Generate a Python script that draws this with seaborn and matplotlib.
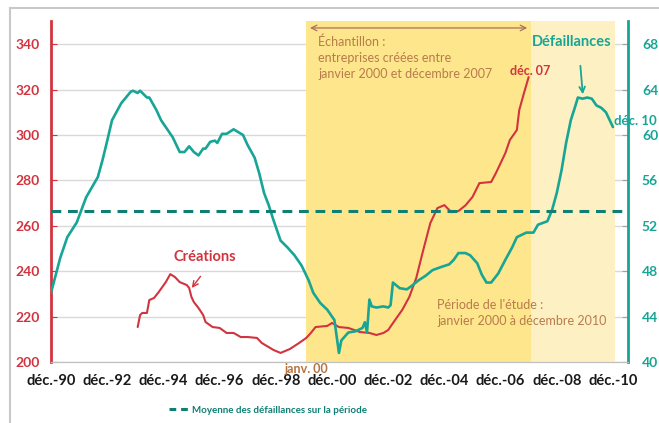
import pandas as pd
import numpy as np
import matplotlib
matplotlib.use("Agg")
import matplotlib.pyplot as plt
from matplotlib.patches import Rectangle
from matplotlib.lines import Line2D
import seaborn as sns

# Défaillances (right axis)
def_dates = ['1990-12', '1991-04', '1991-07', '1991-11', '1992-03', '1992-08', '1992-10', '1992-12',
             '1993-02', '1993-06', '1993-10', '1993-11', '1994-01', '1994-02', '1994-05', '1994-06',
             '1994-09', '1994-11', '1995-04', '1995-07', '1995-09', '1995-11', '1996-01', '1996-03',
             '1996-05', '1996-06', '1996-08', '1996-10', '1996-11', '1997-01', '1997-03', '1997-06',
             '1997-10', '1997-12', '1998-03', '1998-05', '1998-07', '1998-09', '1998-11', '1999-02',
             '1999-05', '1999-08', '1999-11', '2000-02', '2000-04', '2000-07', '2000-10', '2000-12',
             '2001-01', '2001-03', '2001-04', '2001-07', '2001-10', '2002-01', '2002-02', '2002-03',
             '2002-04', '2002-05', '2002-07', '2002-10', '2002-12', '2003-01', '2003-02', '2003-05',
             '2003-08', '2003-10', '2004-01', '2004-04', '2004-07', '2004-11', '2005-02', '2005-04',
             '2005-06', '2005-09', '2005-11', '2006-02', '2006-04', '2006-06', '2006-08', '2006-11',
             '2007-02', '2007-05', '2007-07', '2007-11', '2008-02', '2008-04', '2008-08', '2008-10',
             '2008-12', '2009-02', '2009-04', '2009-06', '2009-08', '2009-09', '2009-11', '2010-01',
             '2010-03', '2010-05', '2010-07', '2010-09', '2010-12']
def_vals = [46.1, 49.2, 51.0, 52.3, 54.5, 56.3, 57.8, 59.5,
            61.3, 62.8, 63.8, 63.9, 63.7, 63.9, 63.3, 63.3,
            62.2, 61.3, 59.8, 58.5, 58.5, 59.0, 58.5, 58.2,
            58.8, 58.8, 59.4, 59.5, 59.3, 60.1, 60.1, 60.5,
            60.0, 59.1, 58.0, 56.6, 54.9, 53.8, 52.5, 50.7,
            50.1, 49.4, 48.5, 47.2, 46.1, 45.2, 44.6, 44.0,
            43.7, 40.8, 41.9, 42.6, 42.7, 43.0, 43.5, 42.6,
            45.5, 44.9, 44.8, 44.9, 44.8, 45.0, 47.0, 46.5,
            46.4, 46.7, 47.2, 47.6, 48.1, 48.4, 48.6, 49.0,
            49.6, 49.6, 49.4, 48.7, 47.7, 47.0, 47.0, 47.8,
            49.0, 50.1, 51.0, 51.4, 51.4, 52.1, 52.4, 53.4,
            54.9, 56.9, 59.3, 61.3, 62.6, 63.3, 63.2, 63.3,
            63.2, 62.6, 62.4, 62.0, 60.7]

# Créations (left axis)
cre_dates = ['1994-01', '1994-02', '1994-03', '1994-05', '1994-06', '1994-08', '1994-10', '1995-01',
             '1995-03', '1995-05', '1995-07', '1995-10', '1995-11', '1995-12', '1996-01', '1996-03',
             '1996-05', '1996-06', '1996-09', '1996-12', '1997-03', '1997-06', '1997-09', '1997-12',
             '1998-04', '1998-06', '1998-11', '1999-02', '1999-06', '1999-10', '2000-01', '2000-03',
             '2000-05', '2000-10', '2000-12', '2001-03', '2001-07', '2001-12', '2002-04', '2002-07',
             '2002-10', '2002-12', '2003-03', '2003-06', '2003-09', '2003-12', '2004-03', '2004-06',
             '2004-09', '2004-12', '2005-03', '2005-06', '2005-09', '2005-12', '2006-03', '2006-08',
             '2006-10', '2006-11', '2007-02', '2007-04', '2007-07', '2007-08', '2007-10', '2007-12']
cre_vals = [215.4, 220.7, 221.6, 221.6, 227.3, 228.2, 230.8, 235.2,
            238.7, 237.4, 235.2, 233.9, 232.6, 228.6, 226.4, 223.8,
            220.7, 217.6, 215.4, 215.0, 212.8, 212.8, 211.0, 211.0,
            210.6, 208.4, 205.3, 204.0, 205.7, 208.4, 210.6, 212.8,
            215.4, 215.9, 217.2, 215.4, 215.0, 213.2, 212.8, 211.9,
            212.8, 214.1, 218.5, 222.9, 228.6, 237.0, 249.3, 261.2,
            267.8, 269.1, 266.0, 266.5, 269.0, 272.7, 278.8, 279.3,
            283.2, 285.4, 292.0, 297.8, 302.2, 311.0, 318.4, 325.5]

mean_def = 53.3
tick_labels = ['déc.-90', 'déc.-92', 'déc.-94', 'déc.-96', 'déc.-98', 'déc.-00',
               'déc.-02', 'déc.-04', 'déc.-06', 'déc.-08', 'déc.-10']

RED = '#d2343f'
TEAL = '#17a596'
TEAL_DK = '#0e7f72'
BROWN = '#b97a4c'

sns.set_style("white")
plt.rcParams['font.family'] = ['Lato', 'DejaVu Sans']

df_def = pd.DataFrame({'date': pd.to_datetime(def_dates), 'val': def_vals})
df_cre = pd.DataFrame({'date': pd.to_datetime(cre_dates), 'val': cre_vals})

fig = plt.figure(figsize=(6.59, 4.23), dpi=100)
ax = fig.add_axes([0.0774, 0.1442, 0.8756, 0.8050])
ax2 = ax.twinx()

# study period shading
ax.axvspan(pd.Timestamp('2000-01-01'), pd.Timestamp('2008-01-01'), color='#fde68b', lw=0, zorder=1)
ax.axvspan(pd.Timestamp('2008-01-01'), pd.Timestamp('2011-01-01'), color='#fdf1c3', lw=0, zorder=1)

sns.lineplot(data=df_cre, x='date', y='val', ax=ax, color=RED, lw=1.5, zorder=3)
sns.lineplot(data=df_def, x='date', y='val', ax=ax2, color=TEAL, lw=1.9, zorder=3)
ax2.axhline(mean_def, color=TEAL_DK, lw=2.2, ls=(0, (3.2, 2.2)), zorder=4)

ax.set_xlim(pd.Timestamp('1990-12-01'), pd.Timestamp('2011-06-15'))
ax.set_ylim(200, 350)
ax2.set_ylim(40, 70)
ax.set_yticks(np.arange(200, 341, 20))
ax2.set_yticks(np.arange(40, 69, 4))
xt = pd.date_range('1990-12-01', '2010-12-01', freq='24MS')
ax.set_xticks(xt)
ax.set_xticklabels(tick_labels)
ax.set_xlabel('')
ax.set_ylabel('')
ax2.set_ylabel('')

ax.set_axisbelow(True)
ax.grid(axis='y', color='#d9d9d9', lw=1)
ax.grid(axis='x', visible=False)

for a in (ax, ax2):
    a.spines['top'].set_visible(False)
    a.spines['bottom'].set_color('#c0c0c0')
ax.spines['left'].set_color(RED)
ax.spines['left'].set_linewidth(2)
ax.spines['right'].set_visible(False)
ax2.spines['left'].set_visible(False)
ax2.spines['right'].set_color(TEAL)
ax2.spines['right'].set_linewidth(2)

ax.tick_params(axis='x', direction='inout', length=7, color='#c0c0c0', pad=5,
               labelsize=10.5, labelcolor='#1a1a1a')
ax.tick_params(axis='y', direction='in', length=4, color=RED, labelsize=10,
               labelcolor=RED, pad=8)
ax2.tick_params(axis='y', direction='in', length=4, color='#a0a0a0', labelsize=10,
                labelcolor=TEAL, pad=10)
for lab in ax.get_xticklabels() + ax.get_yticklabels() + ax2.get_yticklabels():
    lab.set_fontweight('bold')

T = ax.transAxes
ax.text(0.267, 0.308, 'Créations', transform=T, color=RED, fontsize=10.5,
        fontweight='bold', ha='center', va='center')
ax.annotate('', xy=(0.241, 0.211), xytext=(0.262, 0.258), xycoords=T, textcoords=T,
            arrowprops=dict(arrowstyle='->', color=RED, lw=1))
ax.text(0.902, 0.940, 'Défaillances', transform=T, color=TEAL, fontsize=10.5,
        fontweight='bold', ha='center', va='center')
ax.annotate('', xy=(0.922, 0.778), xytext=(0.917, 0.878), xycoords=T, textcoords=T,
            arrowprops=dict(arrowstyle='->', color=TEAL, lw=1.3))
ax.text(0.830, 0.855, 'déc. 07', transform=T, color=RED, fontsize=9,
        fontweight='bold', ha='center', va='center')
ax.text(0.976, 0.708, 'déc. 10', transform=T, color=TEAL, fontsize=9.5,
        fontweight='bold', ha='left', va='center', clip_on=False, zorder=6)
ax.text(0.442, -0.021, 'janv. 00', transform=T, color='#b5743f', fontsize=9,
        fontweight='bold', ha='center', va='center', clip_on=False)
ax.text(0.463, 0.960, 'Échantillon :\nentreprises créées entre\njanvier 2000 et décembre 2007',
        transform=T, color=BROWN, fontsize=9, ha='left', va='top', linespacing=1.4)
ax.annotate('', xy=(0.444, 0.981), xytext=(0.830, 0.981), xycoords=T, textcoords=T,
            arrowprops=dict(arrowstyle='<->', color='#a87060', lw=0.9))
ax.text(0.669, 0.185, "Période de l'étude :\njanvier 2000 à décembre 2010",
        transform=T, color=BROWN, fontsize=9, ha='left', va='top', linespacing=1.4)

# outer frame
fig.patches.append(Rectangle((0.0152, -0.05), 1.2, 1.031, transform=fig.transFigure,
                             fill=False, edgecolor='#c8c8c8', lw=1.5))

handle = Line2D([], [], color=TEAL_DK, lw=2.2, ls=(0, (2.2, 1.6)))
leg = fig.legend([handle], ['Moyenne des défaillances sur la période'],
                 loc='center', bbox_to_anchor=(268 / 659, 1 - 410 / 423), frameon=False,
                 fontsize=7, handlelength=2.2, handletextpad=0.2)
for t in leg.get_texts():
    t.set_color(TEAL_DK)
    t.set_fontweight('bold')

fig.savefig('out.png', dpi=100)
